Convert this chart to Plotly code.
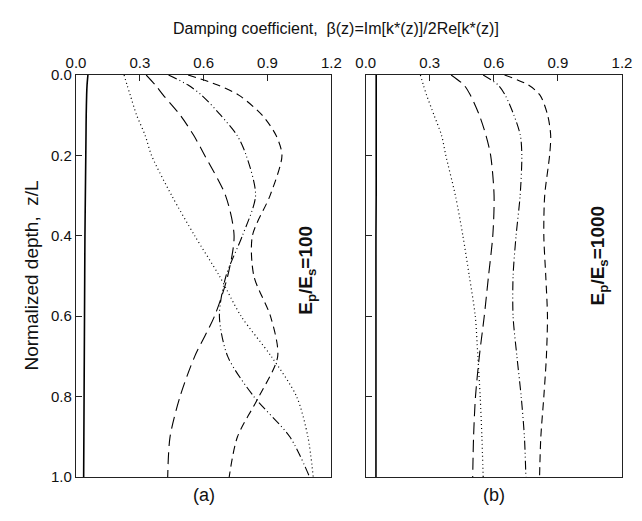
import plotly.graph_objects as go

# Normalized depth grid z/L
Z = [0, 0.025, 0.05, 0.1, 0.15, 0.2, 0.3, 0.4, 0.5, 0.6, 0.7, 0.8, 0.9, 1.0]

# Panel (a): Ep/Es = 100
A_SOLID = [0.056, 0.052, 0.050, 0.048, 0.047, 0.046, 0.044, 0.042, 0.041, 0.040, 0.039, 0.038, 0.037, 0.036]
A_DOT = [0.226, 0.240, 0.255, 0.285, 0.325, 0.355, 0.450, 0.558, 0.674, 0.776, 0.918, 1.037, 1.090, 1.115]
A_LONGDASH = [0.330, 0.373, 0.410, 0.490, 0.553, 0.605, 0.703, 0.743, 0.713, 0.651, 0.558, 0.489, 0.442, 0.431]
A_DASHDOT = [0.435, 0.527, 0.590, 0.680, 0.757, 0.800, 0.844, 0.782, 0.705, 0.674, 0.713, 0.836, 1.005, 1.098]
A_DASH = [0.527, 0.666, 0.765, 0.875, 0.940, 0.968, 0.912, 0.829, 0.836, 0.914, 0.948, 0.860, 0.759, 0.720]

# Panel (b): Ep/Es = 1000
B_SOLID = [0.049, 0.049, 0.049, 0.049, 0.049, 0.049, 0.049, 0.048, 0.048, 0.048, 0.048, 0.048, 0.048, 0.048]
B_DOT = [0.256, 0.270, 0.285, 0.320, 0.355, 0.375, 0.420, 0.455, 0.485, 0.513, 0.525, 0.536, 0.544, 0.550]
B_LONGDASH = [0.400, 0.460, 0.490, 0.532, 0.563, 0.585, 0.601, 0.595, 0.575, 0.555, 0.532, 0.514, 0.505, 0.501]
B_DASHDOT = [0.550, 0.620, 0.653, 0.694, 0.724, 0.731, 0.723, 0.704, 0.690, 0.690, 0.708, 0.728, 0.743, 0.750]
B_DASH = [0.650, 0.762, 0.816, 0.852, 0.866, 0.861, 0.838, 0.834, 0.843, 0.851, 0.846, 0.834, 0.820, 0.814]

X_TICKS = [0.0, 0.3, 0.6, 0.9, 1.2]
Y_TICKS = [0.0, 0.2, 0.4, 0.6, 0.8, 1.0]

STYLES = [
    ("solid", 1.6),
    ("1px,3px", 1.2),
    ("12px,6px", 1.1),
    ("9px,3px,1px,3px,1px,3px", 1.1),
    ("8px,5px", 1.1),
]

FAM = "Liberation Sans, Arial, sans-serif"

fig = go.Figure()
for xa, ya, series in [
    ("x", "y", [A_SOLID, A_DOT, A_LONGDASH, A_DASHDOT, A_DASH]),
    ("x2", "y2", [B_SOLID, B_DOT, B_LONGDASH, B_DASHDOT, B_DASH]),
]:
    for vals, (dash, w) in zip(series, STYLES):
        fig.add_trace(go.Scatter(
            x=vals, y=Z, xaxis=xa, yaxis=ya, mode="lines",
            line=dict(color="black", width=w, dash=dash, shape="spline", smoothing=0.8),
            showlegend=False, hoverinfo="skip",
        ))

tickfont = dict(family=FAM, size=15, color="#111")
axis_common = dict(showline=True, linecolor="#222", linewidth=1.2, mirror=True,
                   ticks="inside", ticklen=6, tickcolor="#222", showgrid=False,
                   zeroline=False, tickfont=tickfont)

fig.update_layout(
    width=642, height=521,
    margin=dict(l=76, r=10, t=75, b=44),
    paper_bgcolor="white", plot_bgcolor="white",
    font=dict(family=FAM, color="#111"),
    xaxis=dict(domain=[0, 0.4676], range=[0, 1.2], side="top", anchor="y",
               tickvals=X_TICKS, tickformat=".1f", **axis_common),
    yaxis=dict(domain=[0, 1], range=[1, 0], anchor="x", tickvals=Y_TICKS,
               tickformat=".1f", **axis_common),
    xaxis2=dict(domain=[0.5306, 1], range=[0, 1.2], side="top", anchor="y2",
                tickvals=X_TICKS, tickformat=".1f", **axis_common),
    yaxis2=dict(domain=[0, 1], range=[1, 0], anchor="x2", tickvals=Y_TICKS,
                showticklabels=False, **axis_common),
    annotations=[
        dict(text="Damping coefficient,  β(z)=Im[k*(z)]/2Re[k*(z)]", xref="paper", yref="paper",
             x=0.476, y=1.0, yshift=57, showarrow=False, font=dict(size=16, family=FAM, color="#111")),
        dict(text="Normalized depth,  z/L", xref="paper", yref="paper", x=0, xshift=-58,
             y=0.5, textangle=-90, showarrow=False, font=dict(size=19, family=FAM, color="#111")),
        dict(text="(a)", xref="x domain", yref="paper", x=0.5, y=0, yshift=-30,
             showarrow=False, font=dict(size=18, family=FAM, color="#111")),
        dict(text="(b)", xref="x2 domain", yref="paper", x=0.5, y=0, yshift=-30,
             showarrow=False, font=dict(size=18, family=FAM, color="#111")),
        dict(text="<b>E<sub>p</sub>/E<sub>s</sub>=100</b>", xref="x", yref="y",
             x=1.085, y=0.485, textangle=-90, showarrow=False,
             font=dict(size=19, family=FAM, color="#111")),
        dict(text="<b>E<sub>p</sub>/E<sub>s</sub>=1000</b>", xref="x2", yref="y2",
             x=1.09, y=0.45, textangle=-90, showarrow=False,
             font=dict(size=19, family=FAM, color="#111")),
    ],
)

fig.write_html("out.html")
